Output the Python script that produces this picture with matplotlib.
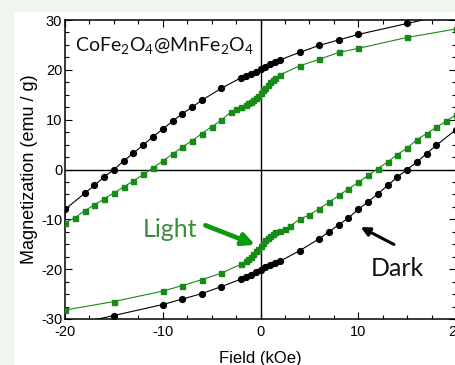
import numpy as np
import matplotlib
matplotlib.use("Agg")
import matplotlib.pyplot as plt
from matplotlib.patches import Rectangle
from matplotlib.ticker import MultipleLocator

# --- data (field in kOe, magnetization in emu/g) ---
# Dark: upper branch, swept from +20 down to -20 kOe
dark_h_up = [20, 15, 10, 8, 6, 4, 2, 1.5, 1, 0.5, 0, -0.5, -1, -1.5, -2, -4,
             -6, -7, -8, -9, -10, -11, -12, -13, -14, -15, -16, -17, -18, -20]
dark_m_up = [31.5, 29.3, 27.1, 26.0, 24.9, 23.5, 22.0, 21.6, 21.1, 20.6, 20.1,
             19.6, 19.2, 18.8, 18.4, 16.3, 13.9, 12.5, 11.2, 9.7, 8.1, 6.6,
             4.9, 3.3, 1.7, 0.0, -1.5, -3.2, -4.8, -8.0]
# Dark: lower branch, swept from -20 up to +20 kOe
dark_h_dn = [-20, -15, -10, -8, -6, -4, -2, -1.5, -1, -0.5, 0, 0.5, 1, 1.5, 2,
             4, 6, 7, 8, 9, 10, 11, 12, 13, 14, 15, 16, 17, 18, 20]
dark_m_dn = [-31.5, -29.3, -27.1, -26.0, -24.9, -23.5, -22.0, -21.6, -21.1,
             -20.6, -20.1, -19.6, -19.2, -18.8, -18.4, -16.3, -13.9, -12.5,
             -11.1, -9.7, -8.0, -6.5, -4.9, -3.2, -1.5, 0.0, 1.5, 3.2, 4.9, 8.0]

# Light: upper branch
light_h_up = [20, 15, 10, 8, 6, 4, 2, 1.5, 1.25, 1, 0.75, 0.5, 0.25, 0, -0.25,
              -0.5, -0.75, -1, -1.25, -1.5, -2, -2.5, -3, -4, -5, -6, -7, -8,
              -9, -10, -11, -12, -13, -14, -15, -16, -17, -18, -19, -20]
light_m_up = [28.2, 26.5, 24.3, 23.5, 22.1, 20.8, 19.0, 18.4, 18.0, 17.5, 17.0,
              16.4, 15.9, 15.3, 14.8, 14.4, 14.0, 13.6, 13.3, 13.0, 12.5, 12.1,
              11.6, 9.9, 8.6, 7.2, 5.8, 4.5, 3.1, 1.7, 0.3, -1.0, -2.3, -3.5,
              -4.7, -5.9, -7.1, -8.3, -9.7, -10.7]
# Light: lower branch
light_h_dn = [-20, -15, -10, -8, -6, -4, -2, -1.5, -1.25, -1, -0.75, -0.5, -0.25,
              0, 0.25, 0.5, 0.75, 1, 1.25, 1.5, 2, 2.5, 3, 4, 5, 6, 7, 8, 9, 10,
              11, 12, 13, 14, 15, 16, 17, 18, 19, 20]
light_m_dn = [-28.2, -26.5, -24.4, -23.3, -22.1, -20.8, -19.0, -18.4, -18.0,
              -17.5, -17.0, -16.4, -15.9, -15.3, -14.7, -14.2, -13.7, -13.3,
              -12.9, -12.6, -12.3, -11.9, -11.4, -10.0, -9.1, -7.9, -6.6, -5.2,
              -3.9, -2.6, -1.2, 0.2, 1.5, 3.0, 4.3, 6.0, 7.2, 8.5, 9.7, 11.0]

x_ticks = [-20, -10, 0, 10, 20]
y_ticks = [-30, -20, -10, 0, 10, 20, 30]

GREEN = "#178a17"

plt.rcParams['font.family'] = ['Liberation Sans', 'DejaVu Sans']
plt.rcParams['axes.unicode_minus'] = False
plt.rcParams['mathtext.fontset'] = 'custom'
plt.rcParams['mathtext.rm'] = 'Lato'

fig = plt.figure(figsize=(4.55, 3.65), dpi=100, facecolor="#eff6ef")
# white page area (light green strips remain on the left and top)
page = Rectangle((14 / 455, 0), 1, 1 - 12 / 365, transform=fig.transFigure,
                 facecolor="white", edgecolor="none", zorder=-10)
fig.add_artist(page)
ax = fig.add_axes([65 / 455, 1 - 319 / 365, 391 / 455, 299 / 365])
ax.set_zorder(5)
ax.set_facecolor("white")

ax.axhline(0, color="black", lw=1.0, zorder=1)
ax.axvline(0, color="black", lw=1.0, zorder=1)

ax.plot(dark_h_up + dark_h_dn, dark_m_up + dark_m_dn, color="black", lw=0.8,
        marker="o", ms=4.2, mec="black", mfc="black", zorder=3)
ax.plot(light_h_up + light_h_dn, light_m_up + light_m_dn, color=GREEN, lw=0.8,
        marker="s", ms=3.6, mec=GREEN, mfc=GREEN, zorder=4)

ax.set_xlim(-20, 20)
ax.set_ylim(-30, 30)
ax.set_xticks(x_ticks)
ax.set_yticks(y_ticks)
ax.xaxis.set_minor_locator(MultipleLocator(2.5))
ax.yaxis.set_minor_locator(MultipleLocator(2.5))
ax.tick_params(which="both", direction="in", top=True, right=True, labelsize=10.5,
               pad=2, width=0.8)
ax.tick_params(axis="x", pad=4)
ax.tick_params(which="major", length=5)
ax.tick_params(which="minor", length=3)
for s in ax.spines.values():
    s.set_linewidth(1.1)

ax.set_xlabel("Field (kOe)", fontsize=12, labelpad=9)
ax.set_ylabel("Magnetization (emu / g)", fontsize=13, labelpad=2)

ax.text(-18.95, 23.7, r"CoFe$_\mathrm{2}$O$_\mathrm{4}$@MnFe$_\mathrm{2}$O$_\mathrm{4}$",
        family="Lato", fontsize=14, ha="left", va="baseline", color="#111111")
ax.text(-12.0, -13.5, "Light", family="Lato", fontsize=18, color="#3c8c3c",
        ha="left", va="baseline")
ax.text(11.25, -21.3, "Dark", family="Lato", fontsize=18, color="#111111",
        ha="left", va="baseline")

ax.annotate("", xy=(-0.3, -15.3), xytext=(-5.9, -11.0),
            arrowprops=dict(arrowstyle="-|>", color="#0a9a0a", lw=3.4, mutation_scale=18),
            zorder=5)
ax.annotate("", xy=(10.0, -11.3), xytext=(13.9, -15.3),
            arrowprops=dict(arrowstyle="-|>", color="black", lw=2.2, mutation_scale=13),
            zorder=5)

fig.savefig("out.png", dpi=100, facecolor=fig.get_facecolor())
